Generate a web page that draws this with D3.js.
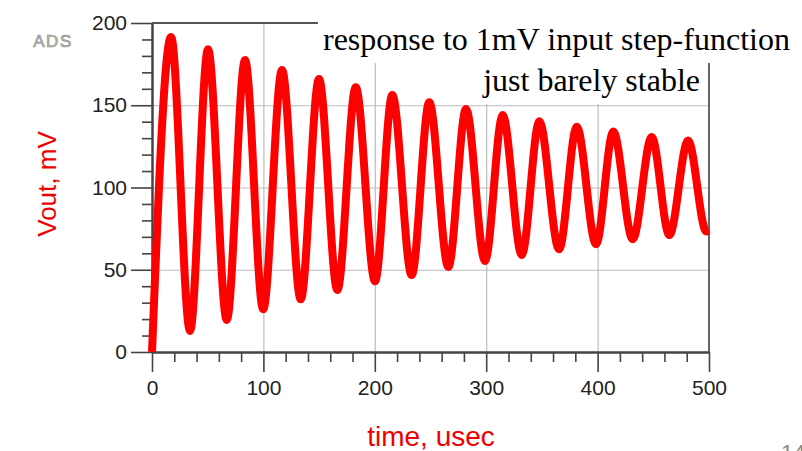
<!DOCTYPE html>
<html>
<head>
<meta charset="utf-8">
<script src="https://cdn.jsdelivr.net/npm/d3@7"></script>
<style>
  html, body { margin: 0; padding: 0; background: #fff; overflow: hidden; }
  svg { display: block; }
</style>
</head>
<body>
<svg id="chart" width="802" height="451"></svg>
<script>
"use strict";

// Data: extrema of the ringing step response
const timeUs = [0, 17.1, 34.1, 50.3, 67.1, 83.5, 99.8, 116.7, 133.5, 149.9, 166.4, 182.9,
  200.2, 215.7, 233.1, 248.9, 266, 281.9, 298.9, 314.8, 331.9, 347.7, 365.4, 381.3,
  398.6, 414.1, 431.5, 448.6, 464.4, 481.2, 497.6, 500];
const voutMv = [0, 191.5, 12.8, 184, 19.5, 177.5, 26, 171.5, 32, 166, 37.7, 161,
  43, 156.2, 46.8, 151.8, 51.7, 147.7, 55.3, 144, 59, 140.3, 62.4, 137,
  65.5, 134, 68.5, 130.7, 71, 128.5, 73.3, 73.6];

const xMajor = [0, 100, 200, 300, 400, 500];
const xMinor = [20, 40, 60, 80, 120, 140, 160, 180, 220, 240, 260, 280, 320, 340, 360, 380, 420, 440, 460, 480];
const yMajor = [0, 50, 100, 150, 200];
const yMinor = [10, 20, 30, 40, 60, 70, 80, 90, 110, 120, 130, 140, 160, 170, 180, 190];

const titleLines = ["response to 1mV input step-function", "just barely stable"];
const xTitle = "time, usec";
const yTitle = "Vout, mV";

// Layout
var graph = {};
graph.svg = d3.select("#chart");
graph.margins = { top: 23, left: 152 };
graph.width = 557;
graph.height = 329;

const sans = "'Liberation Sans', Arial, sans-serif";
const red = "#ee0000";

var x = d3.scaleLinear().domain([0, 500]).range([0, graph.width]);
var y = d3.scaleLinear().domain([0, 200]).range([graph.height, 0]);

graph.g = graph.svg.append("g")
  .attr("transform", "translate(" + graph.margins.left + "," + graph.margins.top + ")");

// grid
graph.g.append("g")
  .attr("class", "grid")
  .attr("transform", "translate(0," + graph.height + ")")
  .call(d3.axisBottom(x).tickValues(xMajor.slice(1, -1)).tickSize(-graph.height).tickFormat(""))
  .call(g => g.select(".domain").remove());
graph.g.append("g")
  .attr("class", "grid")
  .call(d3.axisLeft(y).tickValues(yMajor.slice(1, -1)).tickSize(-graph.width).tickFormat(""))
  .call(g => g.select(".domain").remove());
graph.g.selectAll(".grid line").attr("stroke", "#bdbdbd").attr("stroke-width", 1.2);

// frame (top + right)
graph.g.append("line")
  .attr("x1", 0).attr("x2", graph.width).attr("y1", 0).attr("y2", 0)
  .attr("stroke", "#555").attr("stroke-width", 2);
graph.g.append("line")
  .attr("x1", graph.width).attr("x2", graph.width).attr("y1", 0).attr("y2", graph.height)
  .attr("stroke", "#333").attr("stroke-width", 1.5);

// minor ticks
graph.g.append("g")
  .attr("transform", "translate(0," + graph.height + ")")
  .call(d3.axisBottom(x).tickValues(xMinor).tickSize(10).tickSizeOuter(0).tickFormat(""))
  .attr("class", "minor");
graph.g.append("g")
  .call(d3.axisLeft(y).tickValues(yMinor).tickSize(10).tickSizeOuter(0).tickFormat(""))
  .attr("class", "minor");

// major ticks with labels
graph.gX = graph.g.append("g")
  .attr("transform", "translate(0," + graph.height + ")")
  .call(d3.axisBottom(x).tickValues(xMajor).tickSize(20).tickSizeOuter(0).tickPadding(8));
graph.gY = graph.g.append("g")
  .call(d3.axisLeft(y).tickValues(yMajor).tickSize(21).tickSizeOuter(0).tickPadding(4));

graph.g.selectAll(".tick line").filter(function() { return !this.closest(".grid"); })
  .attr("stroke", "#444").attr("stroke-width", 1.6);
graph.g.selectAll(".domain").attr("stroke", "#444").attr("stroke-width", 2);
graph.g.selectAll(".tick text")
  .attr("font-family", sans).attr("font-size", 21).attr("fill", "#222");

// trace
graph.g.append("path")
  .datum(timeUs.map((t, i) => [t, voutMv[i]]))
  .attr("fill", "none")
  .attr("stroke", "#ff0000")
  .attr("stroke-width", 8)
  .attr("stroke-linejoin", "round")
  .attr("d", d3.line().x(d => x(d[0])).y(d => y(d[1])).curve(d3.curveMonotoneX));

// axis titles
graph.svg.append("text")
  .attr("x", 431).attr("y", 446)
  .attr("text-anchor", "middle")
  .attr("font-family", sans).attr("font-size", 28).attr("fill", red)
  .text(xTitle);
graph.svg.append("text")
  .attr("transform", "translate(56,184) rotate(-90)")
  .attr("text-anchor", "middle")
  .attr("font-family", sans).attr("font-size", 26).attr("fill", red)
  .text(yTitle);

// ADS logo
graph.svg.append("text")
  .attr("x", 53).attr("y", 47)
  .attr("text-anchor", "middle")
  .attr("font-family", sans).attr("font-size", 17)
  .attr("letter-spacing", 1.5)
  .attr("fill", "#bbb").attr("stroke", "#888").attr("stroke-width", 0.6)
  .text("ADS");

// slide number, cut off at the bottom edge
graph.svg.append("text")
  .attr("x", 781).attr("y", 460)
  .attr("font-family", sans).attr("font-size", 22).attr("fill", "#888")
  .text("14");

// annotation boxes
graph.svg.append("rect")
  .attr("x", 318).attr("y", 0).attr("width", 484).attr("height", 63)
  .attr("fill", "#fff");
graph.svg.append("rect")
  .attr("x", 477).attr("y", 63).attr("width", 230).attr("height", 41)
  .attr("fill", "#fff");

graph.svg.append("text")
  .attr("x", 323).attr("y", 50)
  .attr("font-family", "'Liberation Serif', 'Times New Roman', serif")
  .attr("font-size", 32).attr("fill", "#000")
  .text(titleLines[0]);
graph.svg.append("text")
  .attr("x", 700).attr("y", 91)
  .attr("text-anchor", "end")
  .attr("font-family", "'Liberation Serif', 'Times New Roman', serif")
  .attr("font-size", 32).attr("fill", "#000")
  .text(titleLines[1]);
</script>
</body>
</html>
